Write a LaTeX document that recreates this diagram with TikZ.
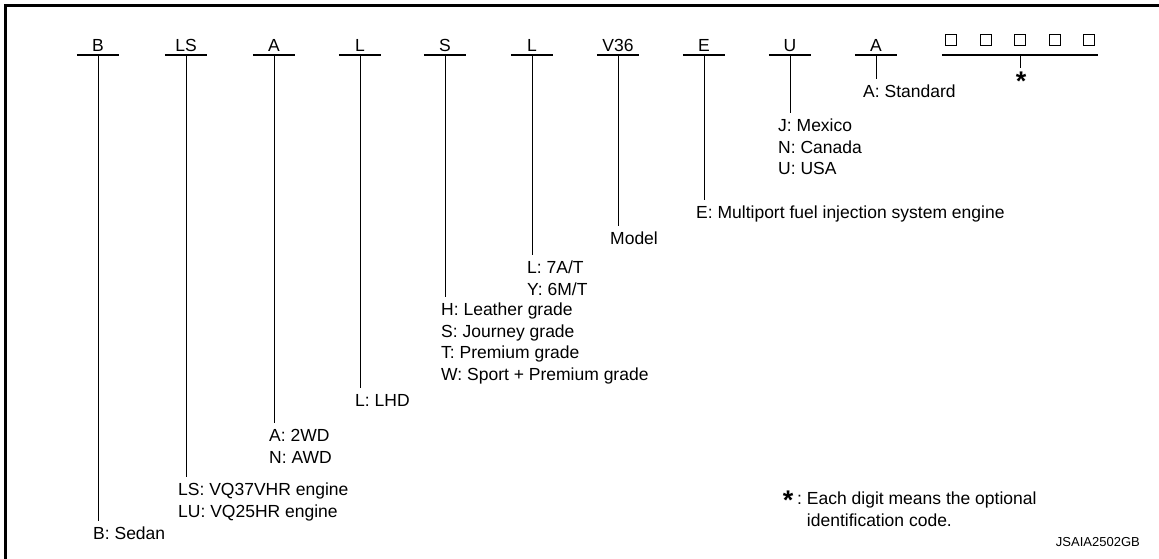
\documentclass[tikz,border=0pt]{standalone}
\usepackage{fontspec}
\setmainfont{Liberation Sans}
\begin{document}
\begin{tikzpicture}[x=1pt,y=-1pt,
  lbl/.style={font=\fontsize{17.5}{21.5}\selectfont, inner sep=0pt, anchor=north west, align=left},
  code/.style={font=\fontsize{17.5}{21.5}\selectfont, inner xsep=0pt, inner ysep=3.5pt, minimum width=42pt, text height=12.6pt, text depth=0pt, anchor=south},
  bar/.style={line width=1.2pt},
  stem/.style={line width=1pt},
  sq/.style={draw, line width=0.9pt, minimum size=11pt, inner sep=0pt},
  star/.style={font=\fontsize{27}{27}\selectfont\bfseries, inner sep=0pt, anchor=base},
  frame/.style={line width=3pt}]
\useasboundingbox (0,0) rectangle (1159,558);
\draw[frame] (5.5,570) -- (5.5,5.5) -- (1170,5.5);

% code letters
\node[code] (cB)  at (98,55)  {B};
\node[code] (cLS) at (186,55) {LS};
\node[code] (cA)  at (274,55) {A};
\node[code] (cL)  at (360,55) {L};
\node[code] (cS)  at (445,55) {S};
\node[code] (cL2) at (532,55) {L};
\node[code] (cV)  at (618,55) {V36};
\node[code] (cE)  at (704,55) {E};
\node[code] (cU)  at (790,55) {U};
\node[code] (cA2) at (876,55) {A};
\node[code, minimum width=156pt] (cX) at (1020,55) {};
\foreach \n in {cB,cLS,cA,cL,cS,cL2,cV,cE,cU,cA2,cX}
  \draw[bar] (\n.south west) -- (\n.south east);

% squares
\node[sq] (q1) at (951,40) {};
\node[sq] (q2) at (985.5,40) {};
\node[sq] (q3) at (1020,40) {};
\node[sq] (q4) at (1054.5,40) {};
\node[sq] (q5) at (1089,40) {};

% stem ends
\coordinate (eB)  at (98,521);
\coordinate (eLS) at (186,477);
\coordinate (eA)  at (274,423);
\coordinate (eL)  at (360,388);
\coordinate (eS)  at (445,297);
\coordinate (eL2) at (532,255);
\coordinate (eV)  at (618,226);
\coordinate (eE)  at (704,200);
\coordinate (eU)  at (790,113);
\coordinate (eA2) at (876,79);
\coordinate (eX)  at (1020,68);
\foreach \n/\e in {cB/eB,cLS/eLS,cA/eA,cL/eL,cS/eS,cL2/eL2,cV/eV,cE/eE,cU/eU,cA2/eA2,cX/eX}
  \draw[stem] (\n.south) -- (\e);

\node[star] (ast) at (1021,90) {*};

% labels
\node[lbl] (lA2) at (863,82.25)  {\strut A: Standard};
\node[lbl] (lU)  at (778,116.25) {\strut J: Mexico\\N: Canada\\U: USA};
\node[lbl] (lE)  at (696,203.25) {\strut E: Multiport fuel injection system engine};
\node[lbl] (lV)  at (610,229.25) {\strut Model};
\node[lbl] (lL2) at (527,258.25) {\strut L: 7A/T\\Y: 6M/T};
\node[lbl] (lS)  at (441,300.25) {\strut H: Leather grade\\S: Journey grade\\T: Premium grade\\W: Sport + Premium grade};
\node[lbl] (lL)  at (355,391.25) {\strut L: LHD};
\node[lbl] (lA)  at (269,426.25) {\strut A: 2WD\\N: AWD};
\node[lbl] (lLS) at (178,480.25) {\strut LS: VQ37VHR engine\\LU: VQ25HR engine};
\node[lbl] (lB)  at (93,524.25)  {\strut B: Sedan};

\node[star] (legast) at (788,509) {*};
\node[lbl] (leg) at (797,489.25) {\strut :\ Each digit means the optional\\\hphantom{:\ }identification code.};
\node[font=\fontsize{13}{15}\selectfont, inner sep=0pt, anchor=base east] (id) at (1140,546) {JSAIA2502GB};
\end{tikzpicture}
\end{document}
